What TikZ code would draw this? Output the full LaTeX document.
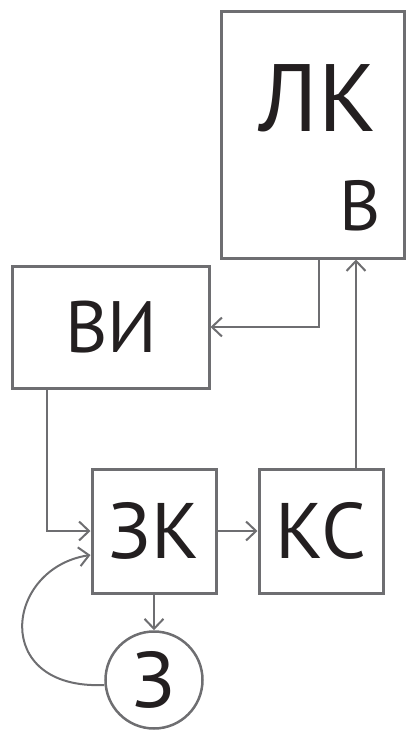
\documentclass[tikz,border=0pt]{standalone}
\usepackage{fontspec}
\setmainfont{PT Sans}
\usetikzlibrary{arrows.meta}
\definecolor{linegray}{RGB}{110,110,113}
\definecolor{textblack}{RGB}{35,31,32}

\begin{document}
\begin{tikzpicture}[x=1bp,y=-1bp,
    blockbox/.style={draw=linegray, line width=3bp, inner sep=0pt},
    arr/.style={draw=linegray, line width=2bp, -{Straight Barb[length=10bp,width=19bp,line width=2bp]}},
    lbl/.style={text=textblack, inner sep=0pt}]
    \useasboundingbox (0,0) rectangle (407,732);

    \node[blockbox, minimum width=183bp, minimum height=246bp] (lk) at (313,135) {};
    \node[lbl, font=\fontsize{96}{96}\selectfont] (lktext) at (318,98) {ЛК};
    \node[lbl, font=\fontsize{71}{71}\selectfont] (lkin) at (360,206) {В};

    \node[blockbox, minimum width=196bp, minimum height=122bp, font=\fontsize{73}{73}\selectfont, text=textblack] (vi) at (111,327) {ВИ};
    \node[blockbox, minimum width=124bp, minimum height=124bp, font=\fontsize{79}{79}\selectfont, text=textblack] (zk) at (154,531) {ЗК};
    \node[blockbox, minimum width=124bp, minimum height=124bp, font=\fontsize{79}{79}\selectfont, text=textblack] (ks) at (321,531) {КС};
    \node[draw=linegray, line width=2.5bp, circle, minimum size=97bp, inner sep=0pt, font=\fontsize{79}{79}\selectfont, text=textblack] (z) at (154,680) {З};

    \draw[arr] ([xshift=6bp]lk.south) |- (vi.east);
    \draw[arr] ([xshift=35bp]ks.north) -- ([xshift=35bp]ks.north |- lk.south);
    \draw[arr] ([xshift=-64bp]vi.south) |- (zk.west);
    \draw[arr] (zk.east) -- (ks.west);
    \draw[arr] (zk.south) -- (z.north);
    \draw[arr] ([yshift=-5bp]z.west) .. controls (-10,690) and (5,568) .. ([yshift=-24bp]zk.west);
\end{tikzpicture}
\end{document}
